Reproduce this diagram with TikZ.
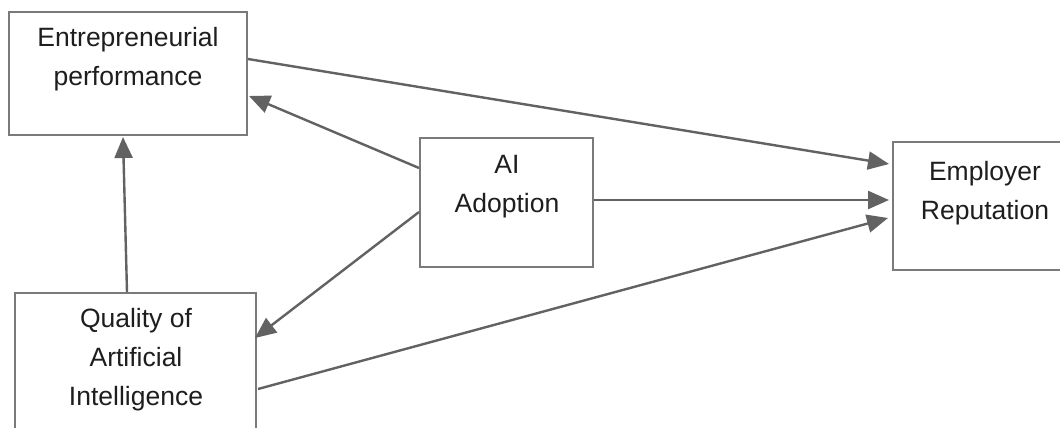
\documentclass[tikz,border=0pt]{standalone}
\usepackage{fontspec}
\setmainfont{Liberation Sans}
\usetikzlibrary{arrows.meta,calc}

\definecolor{boxline}{HTML}{7A7A7A}
\definecolor{arrowline}{HTML}{626262}
\definecolor{labeltext}{HTML}{1E1E1E}

\tikzset{
  box/.style={draw=boxline, line width=2pt, rectangle, inner sep=0pt, fill=white},
  label text/.style={text=labeltext, align=center, inner sep=0pt,
    font=\fontsize{26.5}{39}\selectfont},
  link/.style={draw=arrowline, line width=2.4pt,
    -{Triangle[length=21pt,width=18pt]}, arrowline},
}

\begin{document}
\begin{tikzpicture}[x=1pt, y=-1pt]
  \clip (0,0) rectangle (1060,428);
  \fill[white] (0,0) rectangle (1060,428);

  % boxes
  \node[box, minimum width=238pt, minimum height=123pt] (ep) at (128,73.5) {};
  \node[box, minimum width=241pt, minimum height=137pt] (qa) at (135.5,361.5) {};
  \node[box, minimum width=173pt, minimum height=129pt] (ai) at (506.5,202.5) {};
  \node[box, minimum width=188pt, minimum height=128pt] (er) at (987,206) {};

  % box texts
  \node[label text] (ep-t) at (128,59) {Entrepreneurial\\performance};
  \node[label text] (qa-t) at (136,360) {Quality of\\Artificial\\Intelligence};
  \node[label text] (ai-t) at (507,187) {AI\\Adoption};
  \node[label text] (er-t) at (985,193) {Employer\\Reputation};

  % connection points on the box edges
  \coordinate (ep-out)  at ($(ep.north east)+(0,48)$);
  \coordinate (ep-in)   at ($(ep.north east)+(1,85)$);
  \coordinate (ep-low)  at ($(ep.south)+(-5,1)$);
  \coordinate (qa-top)  at ($(qa.north)+(-8.5,0)$);
  \coordinate (qa-out)  at ($(qa.north east)+(1,97)$);
  \coordinate (qa-in)   at ($(qa.north east)+(-2,46)$);
  \coordinate (ai-up)   at ($(ai.west)+(0,-34.5)$);
  \coordinate (ai-down) at ($(ai.west)+(0,9.5)$);
  \coordinate (ai-out)  at ($(ai.east)+(0,-2.5)$);
  \coordinate (er-in1)  at ($(er.west)+(-3,-42)$);
  \coordinate (er-in2)  at ($(er.west)+(-3,-6)$);
  \coordinate (er-in3)  at ($(er.west)+(-4,12)$);

  % paths
  \draw[link] (ep-out) -- (er-in1);
  \draw[link] (ai-out) -- (er-in2);
  \draw[link] (qa-out) -- (er-in3);
  \draw[link] (ai-up) -- (ep-in);
  \draw[link] (ai-down) -- (qa-in);
  \draw[link] (qa-top) -- (ep-low);
\end{tikzpicture}
\end{document}
